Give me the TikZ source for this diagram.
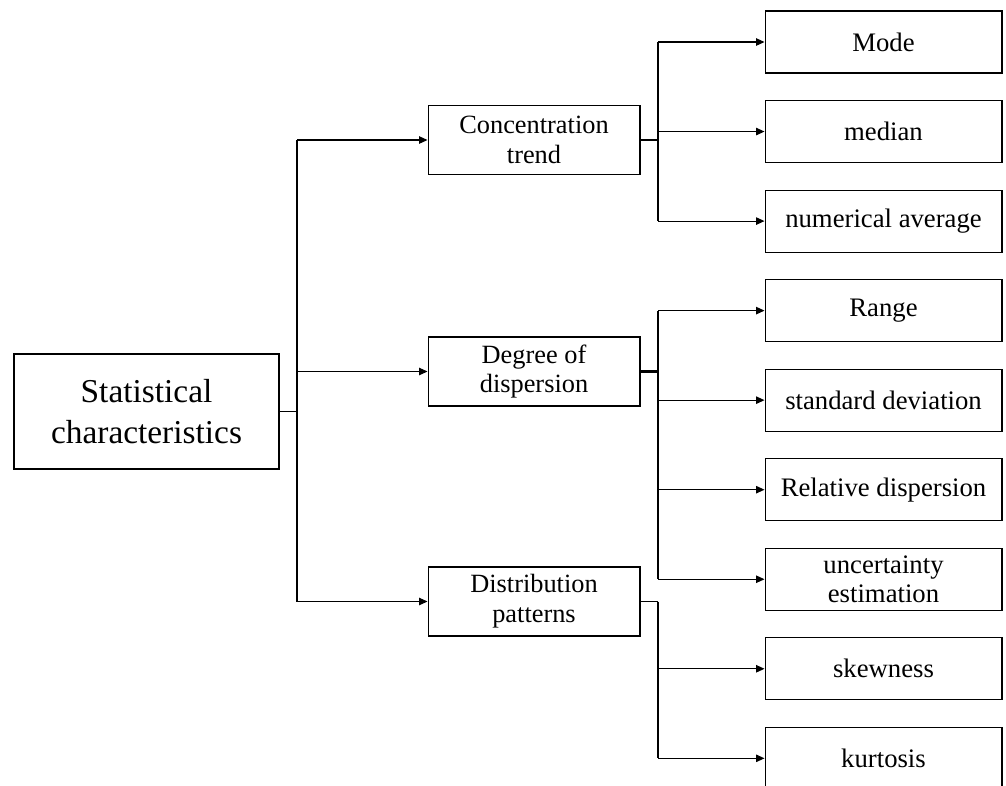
\documentclass[tikz,border=0pt]{standalone}
\usepackage{fontspec}
\setmainfont{Liberation Serif}
\usetikzlibrary{positioning, arrows.meta}
\tikzset{
>={Triangle[length=0.17cm, width=0.15cm]}, % small filled heads
node distance=0.53cm, % gap between the leaf boxes
every node/.style={align=center},
root/.style={draw, line width=0.6pt, minimum width=5.3cm, minimum height=2.3cm, font=\fontsize{19}{23}\selectfont},
group/.style={draw, line width=0.6pt, minimum width=4.24cm, minimum height=1.38cm, inner sep=1pt, font=\fontsize{15}{17}\selectfont},
leaf/.style={draw, line width=0.6pt, minimum width=4.74cm, minimum height=1.24cm, inner sep=1pt, font=\fontsize{15.2}{16}\selectfont},
wire/.style={line width=0.6pt},
stub/.style={line width=1.2pt},
}
\begin{document}
\begin{tikzpicture}[x=0.02cm, y=-0.02cm]
\useasboundingbox (0,0) rectangle (1006,785);
% root and the three groups
\node[root] (stat) at (146.5,411.5) {Statistical\\characteristics};
\node[group] (conc) at (534,140) {Concentration\\trend};
\node[group] (disp) at (534,371.5) {Degree of\\dispersion};
\node[group] (dist) at (534,601.5) {Distribution\\patterns};
% leaves, one under the other
\node[leaf] (mode) at (883.5,42) {Mode};
\node[leaf, below=of mode] (median) {median};
\node[leaf, below=of median] (avg) {numerical average};
\node[leaf, below=of avg] (range) {Range};
\node[leaf, below=of range] (std) {standard deviation};
\node[leaf, below=of std] (rel) {Relative dispersion};
\node[leaf, below=of rel] (unc) {uncertainty\\estimation};
\node[leaf, below=of unc] (skew) {skewness};
\node[leaf, below=of skew] (kurt) {kurtosis};
\coordinate (j0) at (297,411.5);
\coordinate (k) at (658,0);
% root to groups
\draw[wire] (stat.east) -- (j0);
\draw[wire] (j0 |- conc) -- (j0 |- dist);
\foreach \g in {conc, disp, dist}
  \draw[wire, ->] (j0 |- \g) -- (\g);
% groups to leaves
\draw[stub] (conc.east) -- (k |- conc.east);
\draw[stub] (disp.east) -- (k |- disp.east);
\draw[wire] (dist.east) -- (k |- dist.east);
\draw[wire] (k |- mode) -- (k |- avg);
\draw[wire] (k |- range) -- (k |- unc);
\draw[wire] (k |- dist.east) -- (k |- kurt);
\foreach \l in {mode, median, avg, range, std, rel, unc, skew, kurt}
  \draw[wire, ->] (k |- \l) -- (\l);
\end{tikzpicture}
\end{document}
